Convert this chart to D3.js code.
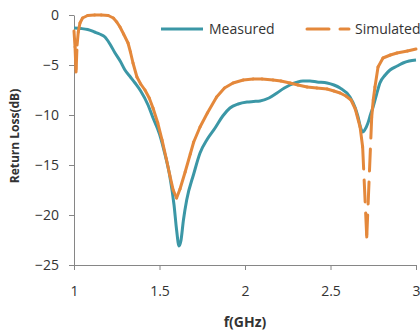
<!DOCTYPE html>
<html>
<head>
<meta charset="utf-8">
<script src="https://cdn.jsdelivr.net/npm/d3@7"></script>
<style>
    body { margin: 0; background: #fff; }
    text { font-family: 'Open Sans', sans-serif; fill: #333; }
</style>
</head>
<body>
<svg id="svg" width="420" height="333"></svg>
<script>
// measured return loss (GHz, dB)
const measuredF = [1.00, 1.04, 1.08, 1.12, 1.15, 1.181, 1.21, 1.24, 1.27, 1.298, 1.33, 1.357, 1.39, 1.433, 1.46,
    1.50, 1.53, 1.561, 1.585, 1.60, 1.614, 1.625, 1.64, 1.659, 1.70, 1.737, 1.78, 1.825, 1.87, 1.912, 1.96,
    2.012, 2.05, 2.088, 2.14, 2.187, 2.23, 2.263, 2.30, 2.339, 2.38, 2.421, 2.48, 2.52, 2.556, 2.614, 2.645,
    2.661, 2.675, 2.688, 2.70, 2.719, 2.735, 2.749, 2.77, 2.789, 2.82, 2.848, 2.89, 2.924, 2.96, 3.00];
const measuredDb = [-1.3, -1.35, -1.45, -1.7, -1.9, -2.2, -2.9, -3.8, -4.6, -5.5, -6.2, -6.8, -7.6, -9.0, -10.2,
    -11.9, -13.8, -16.2, -19.0, -21.5, -23.1, -22.6, -20.5, -18.5, -15.9, -13.8, -12.4, -11.3, -10.1, -9.3, -8.9,
    -8.7, -8.65, -8.6, -8.3, -7.8, -7.3, -7.0, -6.75, -6.6, -6.6, -6.7, -6.8, -7.0, -7.3, -8.2, -9.3,
    -10.2, -11.2, -11.7, -11.5, -10.8, -9.9, -9.2, -7.9, -6.8, -6.0, -5.5, -5.1, -4.8, -4.6, -4.5];

// simulated return loss (GHz, dB)
const simulatedF = [1.000, 1.006, 1.012, 1.018, 1.025, 1.035, 1.05, 1.08, 1.12, 1.16, 1.20, 1.23, 1.25, 1.269,
    1.29, 1.316, 1.33, 1.345, 1.368, 1.39, 1.415, 1.44, 1.462, 1.49, 1.515, 1.54, 1.56, 1.58, 1.60, 1.62, 1.65,
    1.68, 1.70, 1.737, 1.78, 1.834, 1.88, 1.93, 1.99, 2.047, 2.10, 2.164, 2.21, 2.263, 2.31, 2.363, 2.42, 2.48,
    2.52, 2.556, 2.59, 2.62, 2.645, 2.673, 2.688, 2.712, 2.741, 2.75, 2.76, 2.778, 2.807, 2.85, 2.889, 2.95, 3.00];
const simulatedDb = [-1.6, -3.2, -5.7, -3.0, -1.7, -0.8, -0.3, -0.05, 0, 0, -0.05, -0.3, -0.7, -1.2,
    -1.9, -2.8, -3.7, -4.8, -6.2, -6.9, -7.5, -8.3, -9.3, -10.8, -12.5, -14.4, -16.0, -17.5, -18.3, -17.4, -15.7,
    -13.9, -12.7, -11.2, -9.8, -8.2, -7.3, -6.8, -6.5, -6.4, -6.4, -6.5, -6.6, -6.8, -7.0, -7.2, -7.3, -7.4,
    -7.6, -7.8, -8.1, -8.5, -9.4, -11.2, -13.2, -22.2, -10.2, -8.5, -7.2, -5.2, -4.3, -4.0, -3.8, -3.6, -3.4];

const xTicks = [1, 1.5, 2, 2.5, 3];
const yTicks = [0, -5, -10, -15, -20, -25];
const seriesNames = ['Measured', 'Simulated'];

const teal = '#3b97a6';
const orange = '#e4883b';
const axisGray = '#868686';

const svg = d3.select('#svg');

const x = d3.scaleLinear().domain([1, 3]).range([74, 416]);
const y = d3.scaleLinear().domain([-25, 0]).range([265, 15]);

// axes
const yAxis = svg.append('g')
    .attr('transform', `translate(${x(1)},0)`)
    .call(d3.axisLeft(y).tickValues(yTicks).tickSize(5).tickPadding(10).tickSizeOuter(0).tickFormat(d3.format('d')));

const xAxis = svg.append('g')
    .attr('transform', `translate(0,${y(-25)})`)
    .call(d3.axisBottom(x).tickValues(xTicks).tickSize(5).tickPadding(16).tickSizeOuter(0).tickFormat(d => d));

[xAxis, yAxis].forEach(a => {
    a.selectAll('path, line').attr('stroke', axisGray);
    a.selectAll('text')
        .style('font-size', '14px')
        .style('font-family', "'Open Sans', sans-serif")
        .attr('fill', '#333');
});

// measured: smooth solid line
const measured = measuredF.map((f, i) => ({f: f, v: measuredDb[i]}));
const simulated = simulatedF.map((f, i) => ({f: f, v: simulatedDb[i]}));

const line = d3.line()
    .x(d => x(d.f))
    .y(d => y(d.v));

svg.append('path')
    .datum(measured)
    .attr('d', line.curve(d3.curveMonotoneX))
    .attr('fill', 'none')
    .attr('stroke', teal)
    .attr('stroke-width', 3)
    .attr('stroke-linejoin', 'round');

// simulated: dash pattern restarts on every segment, like the spreadsheet did
const segLine = d3.line().x(d => x(d.f)).y(d => y(d.v));
svg.append('g')
    .selectAll('path')
    .data(d3.pairs(simulated))
    .join('path')
        .attr('d', d => segLine(d))
        .attr('fill', 'none')
        .attr('stroke', orange)
        .attr('stroke-width', 3)
        .attr('stroke-linecap', 'round')
        .attr('stroke-dasharray', '22,11');

// legend
const legend = svg.append('g');
const legendItems = [
    {name: seriesNames[0], color: teal, x0: 161, dash: null},
    {name: seriesNames[1], color: orange, x0: 307, dash: '22,11'}
];
legendItems.forEach(it => {
    legend.append('line')
        .attr('x1', it.x0).attr('x2', it.x0 + 42)
        .attr('y1', 29).attr('y2', 29)
        .attr('stroke', it.color)
        .attr('stroke-width', 3)
        .attr('stroke-linecap', it.dash ? 'round' : 'butt')
        .attr('stroke-dasharray', it.dash);
    legend.append('text')
        .attr('x', it.x0 + 48)
        .attr('y', 29)
        .attr('dy', '0.35em')
        .style('font-size', '14px')
        .text(it.name);
});

// axis titles
svg.append('text')
    .attr('transform', 'translate(19,136) rotate(-90)')
    .attr('text-anchor', 'middle')
    .style('font-size', '12px')
    .style('font-weight', 'bold')
    .text('Return Loss(dB)');

svg.append('text')
    .attr('x', 245)
    .attr('y', 327)
    .attr('text-anchor', 'middle')
    .style('font-size', '14px')
    .style('font-weight', 'bold')
    .text('f(GHz)');
</script>
</body>
</html>
